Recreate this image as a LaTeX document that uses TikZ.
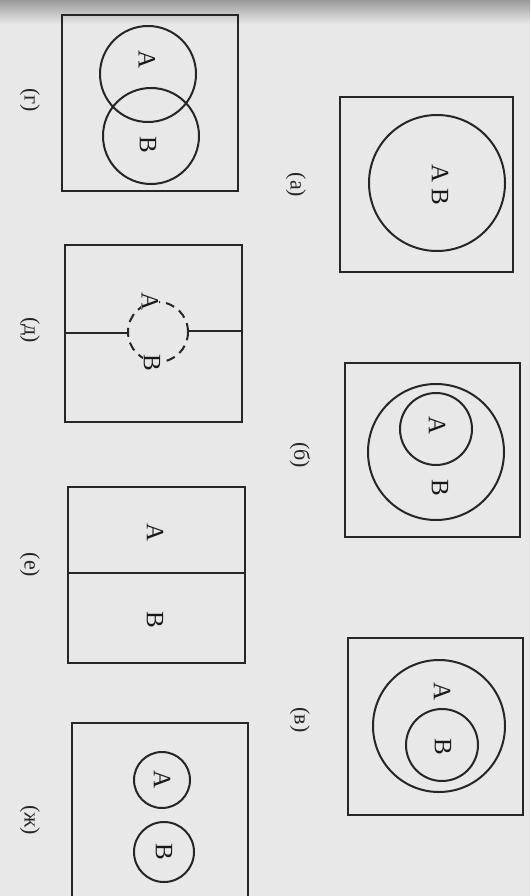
\documentclass[tikz,border=0pt]{standalone}
\usepackage{fontspec}
\setmainfont{Liberation Serif}
\begin{document}
\begin{tikzpicture}[x=1pt,y=-1pt,
  frame/.style={draw=black!85, line width=2.2pt},
  ring/.style={draw=black!85, line width=2pt, circle, inner sep=0pt},
  letter/.style={rotate=-90, font=\fontsize{25}{25}\selectfont, text=black!90, inner sep=0pt},
  caption/.style={rotate=-90, font=\fontsize{22}{22}\selectfont, text=black!85, inner sep=0pt}]
\useasboundingbox (0,0) rectangle (530,896);
\fill[black!9] (0,0) rectangle (530,896);
\shade[top color=black!40, bottom color=black!9] (0,0) rectangle (530,24);
% (a)
\node[frame, minimum width=173pt, minimum height=175pt, inner sep=0pt] (fa) at (426.5,184.5) {};
\node[ring, minimum size=136pt] (ca) at (437,183) {};
\node[letter] (tab) at (440,185) {А В};
\node[caption] (la) at (296,185) {(а)};
% (б)
\node[frame, minimum width=175pt, minimum height=174pt, inner sep=0pt] (fb) at (432.5,450) {};
\node[ring, minimum size=136pt] (cbB) at (436,452) {};
\node[ring, minimum size=72pt] (cbA) at (436,429) {};
\node[letter] (tbA) at (437,426) {А};
\node[letter] (tbB) at (440,488) {В};
\node[caption] (lb) at (300,455) {(б)};
% (в)
\node[frame, minimum width=175pt, minimum height=177pt, inner sep=0pt] (fv) at (435.5,726.5) {};
\node[ring, minimum size=132pt] (cvA) at (439,726) {};
\node[ring, minimum size=72pt] (cvB) at (442,745) {};
\node[letter] (tvA) at (442,692) {А};
\node[letter] (tvB) at (443,747) {В};
\node[caption] (lv) at (300,720) {(в)};
% (г)
\node[frame, minimum width=176pt, minimum height=176pt, inner sep=0pt] (fg) at (150,103) {};
\node[ring, minimum size=96pt] (cgA) at (148,74) {};
\node[ring, minimum size=96pt] (cgB) at (151,136) {};
\node[letter] (tgA) at (147,60) {А};
\node[letter] (tgB) at (148,145) {В};
\node[caption] (lg) at (30,100) {(г)};
% (д)
\node[frame, minimum width=177pt, minimum height=177pt, inner sep=0pt] (fd) at (153.5,333.5) {};
\node[draw=black!85, line width=2pt, circle, inner sep=0pt, minimum size=60pt, dash pattern=on 9pt off 6pt] (cd) at (158,332) {};
\coordinate (dl) at (fd.west |- 0,333);
\coordinate (dr) at (fd.east |- 0,331);
\draw[frame] (dl) -- (cd.west |- 0,333) -- (cd.west);
\draw[frame] (dr) -- (cd.east |- 0,331) -- (cd.east);
\node[letter, fill=black!9, inner sep=1pt] (tdA) at (150,302) {А};
\node[letter, fill=black!9, inner sep=1pt] (tdB) at (152,363) {В};
\node[caption] (ld) at (30,330) {(д)};
% (е)
\node[frame, minimum width=177pt, minimum height=176pt, inner sep=0pt] (fe) at (156.5,575) {};
\draw[frame] (fe.west |- 0,573) -- (fe.east |- 0,573);
\node[letter] (teA) at (155,533) {А};
\node[letter] (teB) at (155,620) {В};
\node[caption] (le) at (30,565) {(е)};
% (ж)
\coordinate (zl) at (72,900);
\coordinate (zr) at (248,900);
\draw[frame] (zl) -- (72,723) -- (248,723) -- (zr);
\node[ring, minimum size=56pt] (czA) at (162,780) {};
\node[ring, minimum size=60pt] (czB) at (164,852) {};
\node[letter] (tzA) at (162,780) {А};
\node[letter] (tzB) at (164,852) {В};
\node[caption] (lz) at (30,820) {(ж)};
\end{tikzpicture}
\end{document}
